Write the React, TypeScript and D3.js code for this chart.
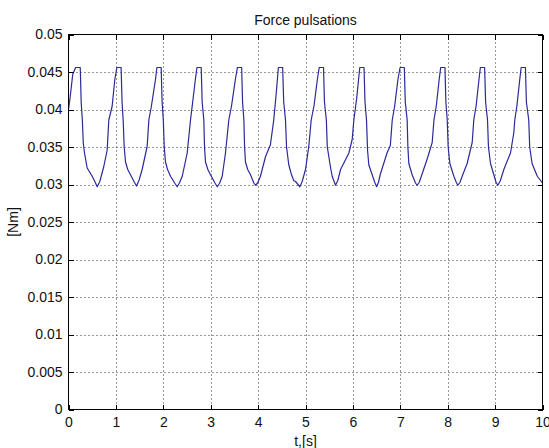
import React, { useEffect, useRef } from "react";
import * as d3 from "d3";

// time [s] and force [Nm]
const time = [
  0.0, 0.03, 0.09, 0.15, 0.248,
  0.268, 0.292, 0.312, 0.338, 0.394, 0.5, 0.57, 0.605,
  0.66, 0.745, 0.816, 0.85, 0.92, 0.977, 1.02,
  1.11, 1.13, 1.153, 1.175, 1.203, 1.25, 1.308, 1.39, 1.435,
  1.49, 1.554, 1.66, 1.695, 1.745, 1.835, 1.865,
  1.955, 1.975, 2.0, 2.02, 2.046, 2.09, 2.152, 2.24, 2.293,
  2.34, 2.4, 2.504, 2.574, 2.62, 2.68, 2.71,
  2.8, 2.82, 2.855, 2.87, 2.89, 2.94, 2.996, 3.09, 3.137,
  3.19, 3.243, 3.312, 3.382, 3.44, 3.52, 3.563,
  3.653, 3.672, 3.7, 3.715, 3.734, 3.78, 3.84, 3.91, 3.945,
  3.99, 4.05, 4.156, 4.26, 4.33, 4.38, 4.428,
  4.518, 4.54, 4.578, 4.6, 4.648, 4.7, 4.753, 4.79, 4.88,
  4.93, 5.0, 5.07, 5.12, 5.18, 5.25, 5.29,
  5.38, 5.4, 5.44, 5.46, 5.49, 5.53, 5.563, 5.633,
  5.68, 5.74, 5.915, 5.985, 6.02, 6.08, 6.145,
  6.235, 6.255, 6.287, 6.31, 6.336, 6.407, 6.46, 6.5,
  6.54, 6.58, 6.72, 6.79, 6.83, 6.88, 6.95, 6.995,
  7.085, 7.105, 7.145, 7.16, 7.18, 7.25, 7.32, 7.356,
  7.4, 7.46, 7.567, 7.673, 7.71, 7.76, 7.82, 7.852,
  7.942, 7.962, 7.99, 8.01, 8.045, 8.13, 8.18, 8.213,
  8.26, 8.305, 8.41, 8.517, 8.55, 8.6, 8.66, 8.689,
  8.779, 8.8, 8.84, 8.86, 8.903, 8.973, 9.02, 9.057,
  9.11, 9.184, 9.325, 9.395, 9.415, 9.46, 9.52, 9.55,
  9.64, 9.66, 9.71, 9.73, 9.78, 9.89, 10.0,
];

const force = [
  0.04, 0.0414, 0.0447, 0.0456, 0.0456,
  0.0409, 0.0386, 0.0355, 0.0342, 0.0322, 0.0311, 0.0302, 0.0297,
  0.0304, 0.0324, 0.0346, 0.0386, 0.0404, 0.044, 0.0456,
  0.0456, 0.041, 0.0386, 0.035, 0.033, 0.032, 0.0313, 0.0303, 0.0298,
  0.0306, 0.032, 0.0351, 0.0386, 0.0403, 0.044, 0.0456,
  0.0456, 0.041, 0.0386, 0.035, 0.033, 0.032, 0.0311, 0.0302, 0.0297,
  0.0302, 0.0311, 0.0342, 0.0386, 0.041, 0.0442, 0.0456,
  0.0456, 0.041, 0.0386, 0.035, 0.033, 0.032, 0.0313, 0.0302, 0.0297,
  0.0302, 0.0311, 0.0342, 0.0386, 0.0405, 0.044, 0.0456,
  0.0456, 0.041, 0.0386, 0.035, 0.033, 0.032, 0.0313, 0.0302, 0.0299,
  0.0302, 0.0311, 0.0337, 0.0353, 0.0386, 0.042, 0.0456,
  0.0456, 0.041, 0.0386, 0.035, 0.0326, 0.0314, 0.0305, 0.0304, 0.0297,
  0.0304, 0.032, 0.0351, 0.0386, 0.0405, 0.044, 0.0456,
  0.0456, 0.041, 0.0386, 0.035, 0.0338, 0.0322, 0.0311, 0.0299,
  0.0305, 0.032, 0.0342, 0.036, 0.0386, 0.0415, 0.0456,
  0.0456, 0.041, 0.0386, 0.0345, 0.0326, 0.0313, 0.0303, 0.0297,
  0.0303, 0.0314, 0.0342, 0.0352, 0.0386, 0.0404, 0.044, 0.0456,
  0.0456, 0.041, 0.0386, 0.035, 0.0328, 0.0313, 0.0302, 0.0299,
  0.0303, 0.0314, 0.0334, 0.0356, 0.0386, 0.0405, 0.044, 0.0456,
  0.0456, 0.041, 0.0386, 0.035, 0.0328, 0.0311, 0.0303, 0.0299,
  0.0303, 0.0311, 0.0328, 0.0356, 0.0386, 0.0405, 0.044, 0.0456,
  0.0456, 0.041, 0.0386, 0.035, 0.0328, 0.0313, 0.0303, 0.0299,
  0.0305, 0.032, 0.0342, 0.0369, 0.0386, 0.0405, 0.044, 0.0456,
  0.0456, 0.041, 0.0386, 0.035, 0.0328, 0.0311, 0.0302,
];

const xTicks = [0, 1, 2, 3, 4, 5, 6, 7, 8, 9, 10];
const yTicks = [0, 0.005, 0.01, 0.015, 0.02, 0.025, 0.03, 0.035, 0.04, 0.045, 0.05];
const yTickLabels = ["0", "0.005", "0.01", "0.015", "0.02", "0.025", "0.03", "0.035", "0.04", "0.045", "0.05"];

const W = 549;
const H = 448;
const FONT = "'Liberation Sans', Arial, Helvetica, sans-serif";

const App = () => {
  const svgRef = useRef<SVGSVGElement>(null);

  useEffect(() => {
    const svg = d3.select(svgRef.current);
    svg.selectAll("*").remove();

    const left = 68.5, right = 542.5, top = 34.5, bottom = 409.5;

    const x = d3.scaleLinear().domain([0, 10]).range([left, right]);
    const y = d3.scaleLinear().domain([0, 0.05]).range([bottom, top]);

    svg.append("rect").attr("width", W).attr("height", H).attr("fill", "#fff");

    // dotted grid
    const grid = svg
      .append("g")
      .attr("stroke", "#333")
      .attr("stroke-width", 1)
      .attr("stroke-dasharray", "1,3");
    grid
      .selectAll(".gx")
      .data(xTicks.slice(1, -1))
      .enter()
      .append("line")
      .attr("x1", (d) => Math.round(x(d)) + 0.5)
      .attr("x2", (d) => Math.round(x(d)) + 0.5)
      .attr("y1", top)
      .attr("y2", bottom);
    grid
      .selectAll(".gy")
      .data(yTicks.slice(1, -1))
      .enter()
      .append("line")
      .attr("x1", left)
      .attr("x2", right)
      .attr("y1", (d) => Math.round(y(d)) + 0.5)
      .attr("y2", (d) => Math.round(y(d)) + 0.5);

    // the curve
    const line = d3
      .line<number>()
      .x((d, i) => x(time[i]))
      .y((d) => y(d));
    svg
      .append("path")
      .datum(force)
      .attr("d", line)
      .attr("fill", "none")
      .attr("stroke", "#2a2a9a")
      .attr("stroke-width", 1.2)
      .attr("stroke-linejoin", "round");

    // axes, ticks pointing inwards like matlab
    const styleAxis = (g: any) => {
      g.select(".domain").remove();
      g.selectAll("line").attr("stroke", "#000").attr("shape-rendering", "crispEdges");
      g.selectAll("text").attr("font-family", FONT).attr("font-size", 14).attr("fill", "#111");
    };

    svg
      .append("g")
      .attr("transform", `translate(0,${bottom})`)
      .call(d3.axisBottom(x).tickValues(xTicks).tickSize(-5).tickPadding(8).tickFormat(d3.format("d")))
      .call(styleAxis);
    svg
      .append("g")
      .attr("transform", `translate(${left},0)`)
      .call(
        d3
          .axisLeft(y)
          .tickValues(yTicks)
          .tickSize(-5)
          .tickPadding(6)
          .tickFormat((d, i) => yTickLabels[i])
      )
      .call(styleAxis);
    svg
      .append("g")
      .attr("transform", `translate(0,${top})`)
      .call(d3.axisTop(x).tickValues(xTicks).tickSize(-5).tickFormat(() => ""))
      .call(styleAxis);
    svg
      .append("g")
      .attr("transform", `translate(${right},0)`)
      .call(d3.axisRight(y).tickValues(yTicks).tickSize(-5).tickFormat(() => ""))
      .call(styleAxis);

    // box
    svg
      .append("rect")
      .attr("x", left)
      .attr("y", top)
      .attr("width", right - left)
      .attr("height", bottom - top)
      .attr("fill", "none")
      .attr("stroke", "#000")
      .attr("stroke-width", 1);

    svg
      .append("text")
      .attr("x", (left + right) / 2)
      .attr("y", 24.5)
      .attr("text-anchor", "middle")
      .attr("font-family", FONT)
      .attr("font-size", 14)
      .attr("fill", "#111")
      .text("Force pulsations");

    svg
      .append("text")
      .attr("x", (left + right) / 2)
      .attr("y", 446)
      .attr("text-anchor", "middle")
      .attr("font-family", FONT)
      .attr("font-size", 14)
      .attr("fill", "#111")
      .text("t,[s]");

    svg
      .append("text")
      .attr("transform", `translate(18,${(top + bottom) / 2}) rotate(-90)`)
      .attr("text-anchor", "middle")
      .attr("font-family", FONT)
      .attr("font-size", 14)
      .attr("fill", "#111")
      .text("[Nm]");
  }, []);

  return (
    <div style={{ position: "fixed", left: 0, top: 0 }}>
      <svg ref={svgRef} width={W} height={H} style={{ display: "block" }} />
    </div>
  );
};

export default App;
